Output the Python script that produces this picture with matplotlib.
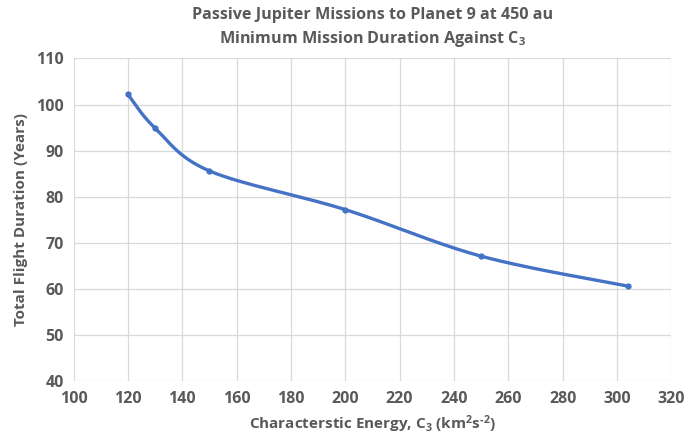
import numpy as np
import matplotlib
matplotlib.use("Agg")
import matplotlib.pyplot as plt

# data
c3 = [120, 130, 150, 200, 250, 304]
duration = [102.2, 94.9, 85.6, 77.2, 67.1, 60.6]
x_ticks = list(range(100, 321, 20))
y_ticks = list(range(40, 111, 10))

title = "Passive Jupiter Missions to Planet 9 at 450 au\nMinimum Mission Duration Against C$_3$"
xlabel = "Characterstic Energy, C$_3$ (km$^2$s$^{\\text{-}2}$)"
ylabel = "Total Flight Duration (Years)"

plt.rcParams['font.family'] = ['Open Sans', 'DejaVu Sans']
plt.rcParams['mathtext.fontset'] = 'custom'
plt.rcParams['mathtext.rm'] = 'Open Sans:bold'
plt.rcParams['mathtext.it'] = 'Open Sans:bold'
plt.rcParams['mathtext.bf'] = 'Open Sans:bold'
grey = '#595959'


def excel_smooth(xs, ys, n=40):
    # excel style smoothed line: bezier segments, control points from neighbours
    xs = np.asarray(xs, float)
    ys = np.asarray(ys, float)
    px, py = [], []
    m = len(xs)
    for i in range(m - 1):
        x0, y0 = xs[i], ys[i]
        x3, y3 = xs[i + 1], ys[i + 1]
        xa, ya = (xs[i - 1], ys[i - 1]) if i > 0 else (x0, y0)
        xb, yb = (xs[i + 2], ys[i + 2]) if i + 2 < m else (x3, y3)
        x1 = x0 + (x3 - xa) / 6
        y1 = y0 + (y3 - ya) / 6
        x2 = x3 - (xb - x0) / 6
        y2 = y3 - (yb - y0) / 6
        t = np.linspace(0, 1, n)
        px.extend((1-t)**3*x0 + 3*(1-t)**2*t*x1 + 3*(1-t)*t**2*x2 + t**3*x3)
        py.extend((1-t)**3*y0 + 3*(1-t)**2*t*y1 + 3*(1-t)*t**2*y2 + t**3*y3)
    return px, py


fig = plt.figure(figsize=(7, 4.36), dpi=100)
ax = fig.add_axes([0.105, 0.126, 0.854, 0.740])

sx, sy = excel_smooth(c3, duration)
ax.plot(sx, sy, color='#4472C4', lw=2.4, solid_capstyle='round', zorder=3)
ax.plot(c3, duration, 'o', color='#4472C4', ms=3.5, zorder=4)

ax.set_xlim(100, 320)
ax.set_ylim(40, 110)
ax.set_xticks(x_ticks)
ax.set_yticks(y_ticks)
ax.grid(True, color='#d9d9d9', lw=0.9)
ax.set_axisbelow(True)
for s in ax.spines.values():
    s.set_visible(False)
ax.tick_params(length=0, labelsize=11.5, labelcolor=grey, pad=7)
for lab in ax.get_xticklabels() + ax.get_yticklabels():
    lab.set_fontweight('bold')

ax.set_xlabel(xlabel, fontsize=11, fontweight='bold', color=grey, labelpad=5)
ax.set_ylabel(ylabel, fontsize=11, fontweight='bold', color=grey, labelpad=6)
ax.set_title(title, fontsize=11.6, fontweight='bold', color=grey, pad=11, linespacing=1.45)

fig.savefig("out.png", dpi=100)
